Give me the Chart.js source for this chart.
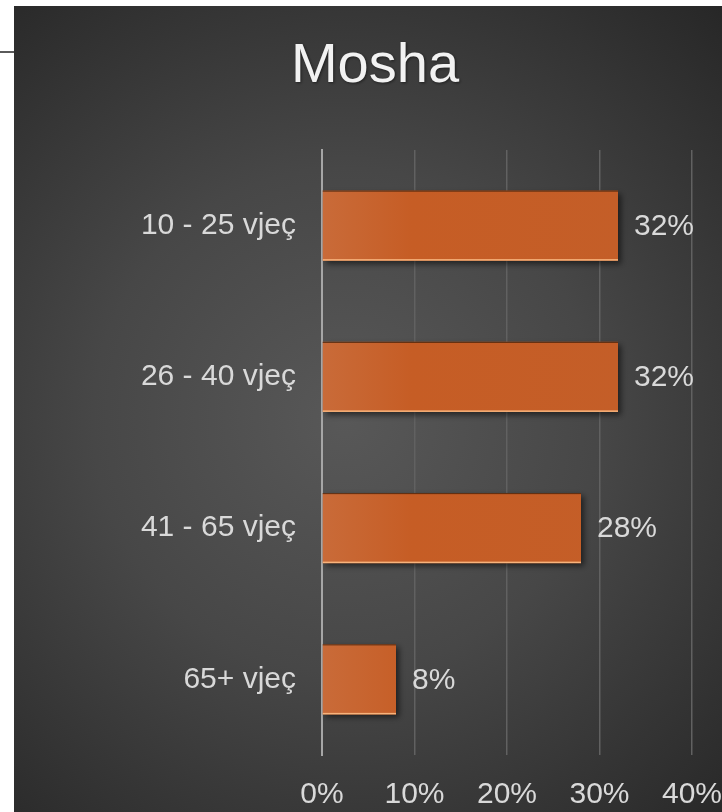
<!DOCTYPE html>
<html>
<head>
<meta charset="utf-8">
<script src="https://cdn.jsdelivr.net/npm/chart.js@4/dist/chart.umd.min.js"></script>
<style>
html,body{margin:0;padding:0;background:#fff;}
canvas{display:block;}
</style>
</head>
<body>
<canvas id="c" width="722" height="812"></canvas>
<script>
const titleText = 'Mosha';
const categories = ['10 - 25 vjeç', '26 - 40 vjeç', '41 - 65 vjeç', '65+ vjeç'];
const values = [32, 32, 28, 8];
const tickValues = [0, 10, 20, 30, 40];

const FONT = "'Liberation Sans', Arial, sans-serif";
const TEXT = '#d9d9d9';

const bgPlugin = {
  id: 'bg',
  beforeDraw(chart) {
    const ctx = chart.ctx;
    const W = chart.width, H = chart.height;
    ctx.save();
    ctx.fillStyle = '#ffffff';
    ctx.fillRect(0, 0, W, H);
    const g = ctx.createRadialGradient(345, 420, 0, 345, 420, 560);
    g.addColorStop(0, '#585858');
    g.addColorStop(0.45, '#474747');
    g.addColorStop(1, '#272727');
    ctx.fillStyle = g;
    ctx.fillRect(14, 6, W - 14, H - 6);
    ctx.fillStyle = '#5a5a5a';
    ctx.fillRect(0, 51, 14, 2);
    // title
    ctx.shadowColor = 'rgba(0,0,0,0.5)';
    ctx.shadowBlur = 3;
    ctx.shadowOffsetX = 1;
    ctx.shadowOffsetY = 1;
    ctx.font = '56px ' + FONT;
    ctx.fillStyle = '#f2f2f2';
    ctx.textAlign = 'center';
    ctx.textBaseline = 'alphabetic';
    ctx.fillText(titleText, 375, 82);
    ctx.restore();
  }
};

const barStyle = {
  id: 'barStyle',
  beforeDatasetsDraw(chart) {
    const ctx = chart.ctx;
    ctx.save();
    ctx.shadowColor = 'rgba(0,0,0,0.55)';
    ctx.shadowBlur = 6;
    ctx.shadowOffsetX = 3;
    ctx.shadowOffsetY = 3;
  },
  afterDatasetsDraw(chart) {
    const ctx = chart.ctx;
    ctx.restore();
    ctx.save();
    const meta = chart.getDatasetMeta(0);
    meta.data.forEach((bar, i) => {
      const top = bar.y - bar.height / 2;
      const bot = bar.y + bar.height / 2;
      const l = Math.min(bar.base, bar.x), r = Math.max(bar.base, bar.x);
      ctx.fillStyle = 'rgba(60,30,10,0.8)';
      ctx.fillRect(l, top, r - l, 1);
      ctx.fillStyle = '#f7b37c';
      ctx.fillRect(l, bot - 1.5, r - l, 1.5);
      ctx.font = '30px ' + FONT;
      ctx.fillStyle = TEXT;
      ctx.textAlign = 'left';
      ctx.textBaseline = 'middle';
      ctx.fillText(values[i] + '%', bar.x + 16, bar.y + 1);
    });
    ctx.restore();
  }
};

const ctx = document.getElementById('c').getContext('2d');
new Chart(ctx, {
  type: 'bar',
  data: {
    labels: categories,
    datasets: [{
      data: values,
      backgroundColor(c) {
        const ch = c.chart;
        const a = ch.chartArea;
        if (!a) return '#c65e26';
        const g = ch.ctx.createLinearGradient(a.left, 0, a.left + 300, 0);
        g.addColorStop(0, '#c96b39');
        g.addColorStop(0.3, '#c65d25');
        g.addColorStop(1, '#c45e28');
        return g;
      },
      borderWidth: 0,
      barPercentage: 0.463,
      categoryPercentage: 1
    }]
  },
  options: {
    indexAxis: 'y',
    responsive: false,
    animation: false,
    devicePixelRatio: 1,
    layout: { padding: { left: 14, right: 30, top: 150, bottom: 0 } },
    plugins: {
      legend: { display: false },
      tooltip: { enabled: false },
      title: { display: false }
    },
    scales: {
      x: {
        min: 0,
        max: 40,
        afterBuildTicks(s) { s.ticks = tickValues.map(v => ({ value: v })); },
        afterFit(s) { s.height = 57; s.paddingLeft = 0; s.paddingRight = 0; },
        ticks: {
          color: TEXT,
          font: { family: FONT, size: 30 },
          padding: 22,
          maxRotation: 0,
          callback: v => v + '%'
        },
        grid: { color: '#616161', lineWidth: 1.5, drawTicks: false },
        border: { display: false }
      },
      y: {
        afterFit(s) { s.width = 308; s.paddingTop = 0; s.paddingBottom = 0; },
        ticks: {
          color: TEXT,
          font: { family: FONT, size: 30 },
          padding: 26
        },
        grid: { display: false, drawTicks: false },
        border: { display: true, color: '#a6a6a6', width: 2 }
      }
    }
  },
  plugins: [bgPlugin, barStyle]
});
</script>
</body>
</html>
